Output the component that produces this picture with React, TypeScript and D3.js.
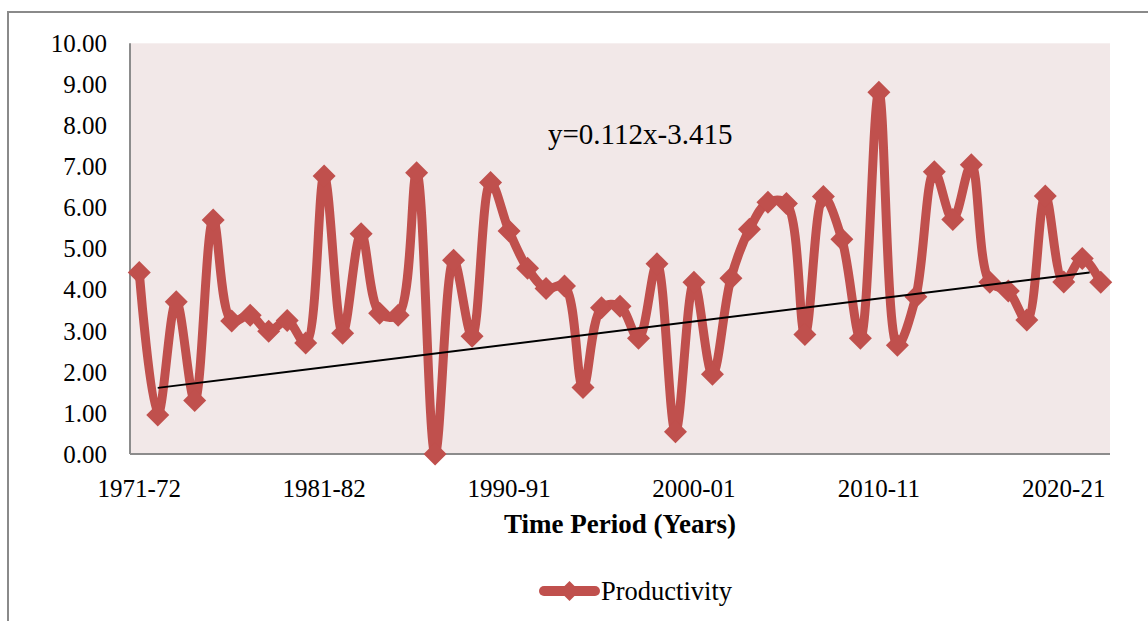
import React from "react";
import * as d3 from "d3";

// tick labels as shown on the chart (every 10th category)
const tickLabels = ["1971-72", "1981-82", "1990-91", "2000-01", "2010-11", "2020-21"];
const tickIndices = [0, 10, 20, 30, 40, 50];

const productivity = [
  4.42, 0.95, 3.71, 1.3, 5.7, 3.24, 3.38, 2.99, 3.25, 2.7,
  6.77, 2.94, 5.36, 3.43, 3.38, 6.85, 0.0, 4.72, 2.87, 6.61,
  5.43, 4.52, 4.03, 4.09, 1.62, 3.56, 3.6, 2.82, 4.63, 0.54,
  4.18, 1.94, 4.28, 5.47, 6.13, 6.1, 2.91, 6.27, 5.23, 2.82,
  8.81, 2.65, 3.83, 6.87, 5.71, 7.04, 4.18, 3.97, 3.26, 6.28,
  4.19, 4.76, 4.18,
];

const yTicks = [0, 1, 2, 3, 4, 5, 6, 7, 8, 9, 10];
const trendX = [1, 51.4];
const trendY = [1.61, 4.42];
const equation = "y=0.112x-3.415";

const W = 1148;
const H = 621;
const plot = { left: 130, right: 1110, top: 43.3, bottom: 454 };
const RED = "#C0504D";
const SERIF = "'Liberation Serif', 'Times New Roman', serif";

export default function App() {
  const n = productivity.length;
  const band = (plot.right - plot.left) / n;
  const x = d3.scaleLinear().domain([0, n - 1]).range([plot.left + band / 2, plot.right - band / 2]);
  const y = d3.scaleLinear().domain([0, 10]).range([plot.bottom, plot.top]);

  const line = d3
    .line<number>()
    .x((_, i) => x(i))
    .y((d) => y(d))
    .curve(d3.curveCatmullRom.alpha(0.5));

  const diamond = (cx: number, cy: number, r: number) =>
    `M${cx},${cy - r}L${cx + r},${cy}L${cx},${cy + r}L${cx - r},${cy}Z`;

  return (
    <svg width={W} height={H} style={{ position: "absolute", left: 0, top: 0 }} fontFamily={SERIF}>
      <rect x={0} y={0} width={W} height={H} fill="#fff" />
      {/* chart area border */}
      <rect x={8} y={12} width={W + 20} height={H + 20} fill="none" stroke="#8a8a8a" strokeWidth={2} />
      {/* plot area */}
      <rect x={plot.left} y={plot.top} width={plot.right - plot.left} height={plot.bottom - plot.top} fill="#F2E8E8" />
      <line x1={plot.left} x2={plot.left} y1={plot.top} y2={plot.bottom} stroke="#8c8c8c" strokeWidth={2} />
      <line x1={plot.left} x2={plot.right} y1={plot.bottom} y2={plot.bottom} stroke="#8c8c8c" strokeWidth={2} />

      {yTicks.map((t) => (
        <text key={t} x={107} y={y(t)} dy="0.35em" textAnchor="end" fontSize={25} fill="#000">
          {t.toFixed(2)}
        </text>
      ))}
      {tickIndices.map((ti, k) => (
        <text key={ti} x={x(ti)} y={497} textAnchor="middle" fontSize={25} fill="#000">
          {tickLabels[k]}
        </text>
      ))}
      <text x={620} y={533} textAnchor="middle" fontSize={27} fontWeight="bold" fill="#000">
        Time Period (Years)
      </text>

      {/* series */}
      <path d={line(productivity) || ""} fill="none" stroke={RED} strokeWidth={9} strokeLinejoin="round" />
      {productivity.map((v, i) => (
        <path key={i} d={diamond(x(i), y(v), 11.5)} fill={RED} />
      ))}

      {/* trend line */}
      <line x1={x(trendX[0])} y1={y(trendY[0])} x2={x(trendX[1])} y2={y(trendY[1])} stroke="#000" strokeWidth={2} />
      <text x={548} y={144} fontSize={29} fill="#000">
        {equation}
      </text>

      {/* legend */}
      <line x1={544} x2={595} y1={591} y2={591} stroke={RED} strokeWidth={10} strokeLinecap="round" />
      <path d={diamond(569.5, 591, 10)} fill={RED} />
      <text x={601} y={600} fontSize={26.5} fill="#000">
        Productivity
      </text>
    </svg>
  );
}
